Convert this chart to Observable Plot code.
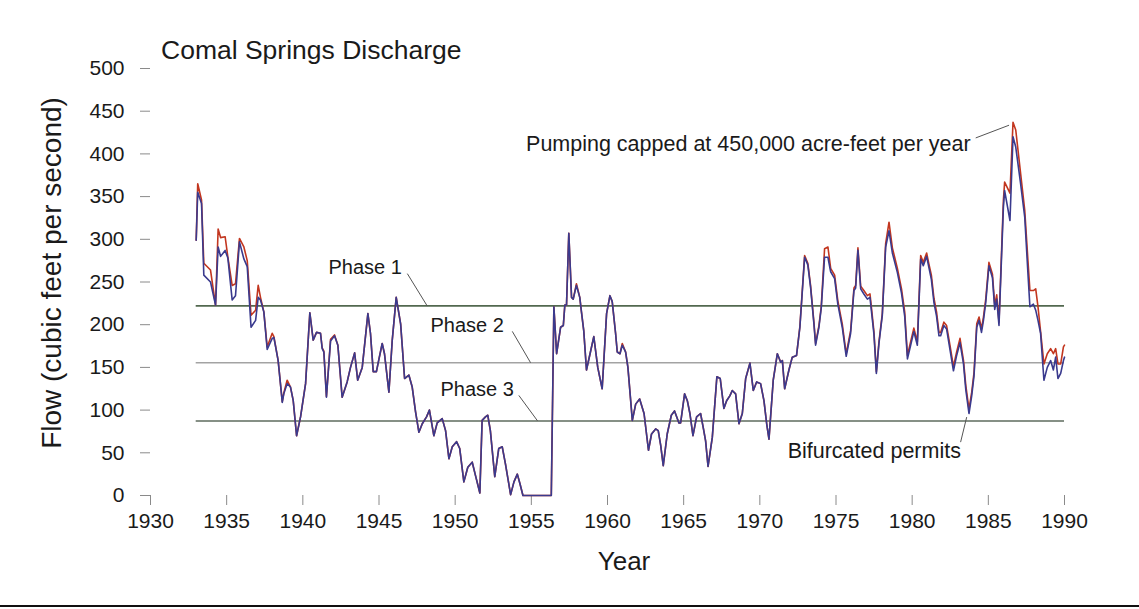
<!DOCTYPE html>
<html><head><meta charset="utf-8">
<script src="https://cdn.jsdelivr.net/npm/d3@7"></script>
<script src="https://cdn.jsdelivr.net/npm/@observablehq/plot@0.6"></script>
<style>
body{margin:0;background:#fff;}
#wrap{position:relative;width:1139px;height:609px;font-family:"Liberation Sans",Arial,sans-serif;color:#1a1a1a;overflow:hidden;}
.lbl{position:absolute;white-space:nowrap;line-height:1;}
</style></head><body><div id="wrap"></div>
<script>
// ---- data ----
const years = [
  1933.0,1933.1,1933.35,1933.5,1933.94,
  1934.27,1934.44,1934.6,1934.9,
  1935.08,1935.36,1935.58,1935.84,
  1936.13,1936.35,1936.6,1936.9,
  1937.07,1937.22,1937.44,1937.66,1937.99,
  1938.1,1938.38,1938.65,1938.75,1938.97,
  1939.19,1939.37,1939.59,1939.85,
  1940.18,1940.46,1940.68,1940.9,
  1941.16,1941.27,1941.38,1941.55,1941.82,
  1942.08,1942.3,1942.58,1942.91,
  1943.13,1943.4,1943.6,1943.9,
  1944.27,1944.44,1944.62,1944.83,1944.99,
  1945.21,1945.36,1945.65,1945.87,
  1946.13,1946.42,1946.68,1946.96,
  1947.18,1947.4,1947.62,1947.84,
  1948.12,1948.31,1948.6,1948.82,
  1949.15,1949.37,1949.59,1949.81,
  1950.09,1950.3,1950.57,1950.83,
  1951.12,1951.34,1951.62,1951.77,1951.99,
  1952.14,1952.31,1952.6,1952.86,
  1953.09,1953.3,1953.64,1953.86,
  1954.08,1954.25,1954.45,
  1956.31,1956.48,1956.66,1956.92,
  1957.1,1957.2,1957.31,1957.46,1957.64,1957.75,1957.96,
  1958.18,1958.29,1958.44,1958.62,1958.88,
  1959.1,1959.36,1959.65,1959.94,
  1960.16,1960.31,1960.53,1960.64,1960.82,1960.97,
  1961.19,1961.34,1961.63,1961.85,
  1962.11,1962.4,1962.69,1962.89,
  1963.16,1963.33,1963.49,1963.66,1963.92,
  1964.19,1964.4,1964.69,1964.8,
  1965.06,1965.24,1965.41,1965.61,1965.85,
  1966.11,1966.3,1966.44,1966.6,1966.88,
  1967.18,1967.4,1967.64,1967.82,
  1968.04,1968.19,1968.41,1968.63,1968.85,
  1969.07,1969.35,1969.57,1969.79,
  1970.05,1970.27,1970.45,1970.6,1970.88,
  1971.15,1971.37,1971.48,1971.63,1971.91,
  1972.13,1972.41,1972.63,1972.94,
  1973.15,1973.33,1973.55,1973.66,1973.88,
  1974.03,1974.25,1974.47,1974.65,1974.91,
  1975.12,1975.41,1975.67,1975.96,
  1976.18,1976.29,1976.44,1976.62,1976.83,
  1977.06,1977.23,1977.38,1977.49,1977.65,1977.82,
  1978.04,1978.26,1978.48,1978.7,
  1979.03,1979.3,1979.51,1979.69,1979.9,
  1980.11,1980.34,1980.56,1980.73,1980.95,
  1981.1,1981.26,1981.43,1981.6,1981.76,1981.87,
  1982.08,1982.26,1982.48,1982.71,1982.92,
  1983.14,1983.37,1983.52,1983.73,1983.91,
  1984.06,1984.24,1984.39,1984.55,1984.68,1984.83,
  1985.04,1985.27,1985.42,1985.55,1985.7,1985.99,
  1986.07,1986.42,1986.62,1986.8,
  1987.12,1987.39,1987.6,1987.73,1987.96,
  1988.11,1988.26,1988.43,1988.65,1988.87,
  1989.09,1989.27,1989.42,1989.57,1989.75,1989.93,
  1990.0
];
const flowBlue = [
  299,355,342,258,250,
  223,291,280,287,
  278,229,234,297,
  277,268,197,205,
  232,229,215,171,184,
  185,158,109,119,131,
  127,111,70,92,
  131,214,182,191,
  190,172,168,115,181,
  187,176,115,133,
  150,167,135,150,
  213,190,145,145,159,
  178,166,121,182,
  232,201,137,141,
  127,98,74,84,
  92,100,70,85,
  90,76,43,57,
  63,55,16,33,
  39,23,3,88,92,
  94,76,22,55,
  57,37,1,16,
  25,14,0,
  0,221,166,197,
  199,223,223,307,232,230,246,
  232,215,193,147,168,
  186,150,125,213,
  234,227,190,168,166,176,
  168,150,88,107,
  113,96,53,72,
  78,76,59,35,72,
  94,99,85,85,
  119,111,96,70,92,
  96,78,64,34,68,
  139,137,102,111,
  117,123,119,84,96,
  137,155,123,133,
  131,111,84,66,135,
  166,156,158,125,147,
  162,164,197,279,
  270,244,201,176,197,
  219,279,279,262,254,
  224,197,163,190,
  240,243,287,242,236,
  230,232,207,189,143,178,
  211,291,310,284,
  261,237,210,160,176,
  192,176,277,269,280,
  267,253,226,210,187,187,
  199,195,171,146,164,
  179,154,124,96,117,
  140,197,205,191,205,226,
  269,255,218,230,199,338,
  357,322,420,408,
  365,326,260,221,224,
  217,205,190,135,150,
  158,147,162,137,143,158,
  162
];
const flowRed = [
  299,365,346,272,264,
  223,312,302,303,
  279,246,248,301,
  291,275,211,217,
  246,232,215,174,190,
  186,158,110,120,135,
  127,111,70,92,
  131,214,182,191,
  190,173,169,116,183,
  188,176,115,133,
  150,167,135,150,
  213,190,145,145,159,
  178,166,121,182,
  232,201,137,141,
  127,98,74,84,
  92,100,70,85,
  90,76,43,57,
  63,55,16,33,
  39,23,3,88,92,
  94,76,22,55,
  57,37,1,16,
  25,14,0,
  0,221,166,197,
  199,223,223,307,232,230,248,
  232,215,193,147,168,
  186,150,125,213,
  234,227,190,168,166,178,
  168,150,88,107,
  113,96,53,72,
  78,76,59,35,72,
  94,99,85,85,
  119,111,96,70,92,
  96,78,64,34,68,
  139,137,102,111,
  117,123,119,84,96,
  137,155,123,133,
  131,111,84,66,135,
  166,156,158,125,147,
  162,164,198,281,
  272,246,203,178,199,
  221,289,291,266,258,
  228,201,166,193,
  243,246,290,245,240,
  234,236,211,192,145,180,
  213,295,320,290,
  266,242,215,164,180,
  196,180,281,273,284,
  271,258,231,215,191,191,
  203,199,176,151,168,
  184,158,129,101,121,
  144,201,209,195,209,230,
  273,259,223,235,203,346,
  367,354,437,428,
  377,334,275,240,240,
  242,221,192,154,166,
  172,166,172,154,154,174,
  176
];

const xTicks = [1930,1935,1940,1945,1950,1955,1960,1965,1970,1975,1980,1985,1990];
const yTicks = [0,50,100,150,200,250,300,350,400,450,500];

const phaseNames = ["Phase 1","Phase 2","Phase 3"];
const phaseLevels = [222,155.5,87.3];
const phaseColors = ["#52684f","#a3a3a3","#5e6b5e"];
const phaseStart = [1933,1933,1933];
const phaseEnd = [1990,1990,1990];
const phaseLabelYear = [1944.09,1950.79,1951.44];
const phaseLabelFlow = [267,198.6,124.4];

const leaderX1 = [1946.86,1953.75,1954.18,1984.17,1983.18];
const leaderY1 = [259.8,192.2,117.2,418.7,62.5];
const leaderX2 = [1948.17,1954.95,1955.41,1986.36,1983.58];
const leaderY2 = [221.8,155.5,87.3,433.6,91.8];

const noteText = ["Pumping capped at 450,000 acre-feet per year","Bifurcated permits"];
const noteYear = [1983.84,1983.2];
const noteFlow = [411,52.4];

// ---- tables built from the arrays ----
const flows = years.map((t,i)=>({year:t, blue:flowBlue[i], red:flowRed[i]}));
const phases = phaseNames.map((n,i)=>({name:n, level:phaseLevels[i], color:phaseColors[i],
  x1:phaseStart[i], x2:phaseEnd[i], ly:phaseLabelFlow[i], lx:phaseLabelYear[i]}));
const leaders = leaderX1.map((v,i)=>({x1:v,y1:leaderY1[i],x2:leaderX2[i],y2:leaderY2[i]}));
const notes = noteText.map((s,i)=>({text:s,year:noteYear[i],flow:noteFlow[i]}));

const FONT = "'Liberation Sans', Arial, sans-serif";
const plot = Plot.plot({
  width:1139, height:609,
  marginLeft:150, marginRight:75, marginTop:68, marginBottom:114,
  style:{fontFamily:FONT, fontSize:"21px", color:"#1a1a1a", background:"transparent", overflow:"visible"},
  x:{domain:[1930,1990], ticks:xTicks, tickFormat:d3.format("d"), tickSize:10, tickPadding:8, label:null},
  y:{domain:[0,500], ticks:yTicks, tickSize:10, tickPadding:16, label:null},
  marks:[
    Plot.ruleY(phases,{y:"level", x1:"x1", x2:"x2", stroke:"color", strokeWidth:1.6}),
    Plot.link(leaders,{x1:"x1",y1:"y1",x2:"x2",y2:"y2", stroke:"#555", strokeWidth:1}),
    Plot.text(phases,{x:"lx", y:"ly", text:"name", fontSize:20, fill:"#1a1a1a"}),
    Plot.text(notes,{x:"year", y:"flow", text:"text", textAnchor:"end", fontSize:21.5, fill:"#1a1a1a"}),
    Plot.line(flows,{x:"year", y:"red", stroke:"#c2361f", strokeWidth:1.6}),
    Plot.line(flows,{x:"year", y:"blue", stroke:"#3a3a8e", strokeWidth:1.6})
  ]
});
d3.select(plot).selectAll('g[aria-label="x-axis tick"], g[aria-label="y-axis tick"]').attr("stroke","#8a8a8a");

const wrap = document.getElementById("wrap");
wrap.appendChild(plot);
plot.style.position = "absolute"; plot.style.left = "0px"; plot.style.top = "0px";

function addLabel(text, css){
  const d = document.createElement("div");
  d.className = "lbl"; d.textContent = text;
  Object.assign(d.style, css);
  wrap.appendChild(d);
}
addLabel("Comal Springs Discharge", {left:"161px", top:"37px", fontSize:"26.5px"});
addLabel("Flow (cubic feet per second)", {left:"52px", top:"273px", fontSize:"28px", transform:"translate(-50%,-50%) rotate(-90deg)"});
addLabel("Year", {left:"624px", top:"548px", fontSize:"26px", transform:"translateX(-50%)"});
const rule = document.createElement("div");
Object.assign(rule.style,{position:"absolute", left:"0px", top:"605px", width:"1139px", height:"2px", background:"#111"});
wrap.appendChild(rule);
</script></body></html>
